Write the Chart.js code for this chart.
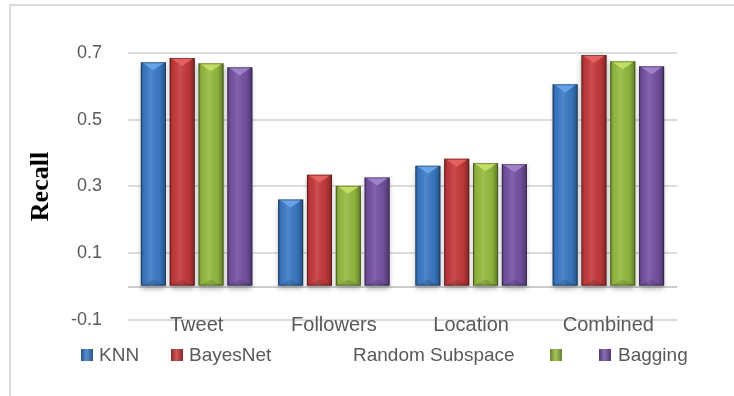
<!DOCTYPE html>
<html>
<head>
<meta charset="utf-8">
<script src="https://cdn.jsdelivr.net/npm/chart.js@4.4.1/dist/chart.umd.min.js"></script>
<style>
  html, body { margin: 0; padding: 0; background: #fff; }
  #wrap { position: relative; width: 734px; height: 396px; overflow: hidden; }
  #frame { position: absolute; left: 9px; top: 4px; width: 800px; height: 500px;
           border-top: 2px solid #d9d9d9; border-left: 2px solid #d9d9d9; }
  #legend { position: absolute; left: 0; top: 0; width: 734px; height: 396px; pointer-events: none;
            font-family: "Liberation Sans", Arial, sans-serif; font-size: 19px; color: #595959; }
  .lg-box { position: absolute; top: 349px; width: 12px; height: 12px; }
  .lg-txt { position: absolute; top: 344px; white-space: nowrap; line-height: 22px; }
</style>
</head>
<body>
<div id="wrap">
  <div id="frame"></div>
  <canvas id="recallChart" width="734" height="396"></canvas>
  <div id="legend"></div>
</div>
<script>
const categories = ['Tweet', 'Followers', 'Location', 'Combined']
const seriesNames = ['KNN', 'BayesNet', 'Random Subspace', 'Bagging']
const knnValues = [0.672, 0.261, 0.362, 0.606]
const bayesNetValues = [0.685, 0.335, 0.383, 0.694]
const randomSubspaceValues = [0.669, 0.302, 0.370, 0.675]
const baggingValues = [0.657, 0.327, 0.367, 0.660]
const yTicks = [-0.1, 0.1, 0.3, 0.5, 0.7]

const baseColors = ['#3b7ac6', '#c63a3c', '#95bb40', '#7553a3']
const lightColors = ['#6aa6ec', '#e86464', '#c6e266', '#a286cc']

// bevel / shading on top of every bar, using the element geometry chart.js computed
const bevelPlugin = {
  id: 'bevel',
  beforeDatasetsDraw(chart) {
    const ctx = chart.ctx
    chart.data.datasets.forEach((ds, i) => {
      chart.getDatasetMeta(i).data.forEach(bar => {
        const left = bar.x - bar.width / 2
        ctx.save()
        ctx.shadowColor = 'rgba(0,0,0,0.28)'
        ctx.shadowBlur = 5
        ctx.shadowOffsetY = 3
        ctx.fillStyle = '#ffffff'
        ctx.fillRect(left, bar.y, bar.width, bar.base - bar.y)
        ctx.restore()
      })
    })
  },
  afterDatasetsDraw(chart) {
    const ctx = chart.ctx
    chart.data.datasets.forEach((ds, i) => {
      chart.getDatasetMeta(i).data.forEach(bar => {
        const left = bar.x - bar.width / 2
        const right = left + bar.width
        const h = bar.base - bar.y
        ctx.save()
        const g = ctx.createLinearGradient(left, 0, right, 0)
        g.addColorStop(0, 'rgba(0,0,0,0.30)')
        g.addColorStop(0.12, 'rgba(0,0,0,0.05)')
        g.addColorStop(0.4, 'rgba(255,255,255,0.10)')
        g.addColorStop(0.75, 'rgba(0,0,0,0.05)')
        g.addColorStop(1, 'rgba(0,0,0,0.35)')
        ctx.fillStyle = g
        ctx.fillRect(left, bar.y, bar.width, h)
        // top bevel triangle
        ctx.beginPath()
        ctx.moveTo(left + 1, bar.y)
        ctx.lineTo(right - 1, bar.y)
        ctx.lineTo(bar.x, bar.y + bar.width * 0.32)
        ctx.closePath()
        ctx.fillStyle = lightColors[i]
        ctx.globalAlpha = 0.9
        ctx.fill()
        // bottom bevel
        ctx.beginPath()
        ctx.moveTo(left + 1, bar.base)
        ctx.lineTo(right - 1, bar.base)
        ctx.lineTo(bar.x, bar.base - bar.width * 0.25)
        ctx.closePath()
        ctx.fillStyle = 'rgba(0,0,0,0.12)'
        ctx.globalAlpha = 1
        ctx.fill()
        ctx.strokeStyle = 'rgba(0,0,0,0.35)'
        ctx.lineWidth = 1
        ctx.strokeRect(left + 0.5, bar.y + 0.5, bar.width - 1, h - 1)
        ctx.restore()
      })
    })
  }
}

// category labels sit across the -0.1 gridline, so they are drawn here instead of by the axis
const categoryLabelPlugin = {
  id: 'categoryLabels',
  afterDraw(chart) {
    const ctx = chart.ctx
    const xScale = chart.scales.x
    ctx.save()
    ctx.font = '20px "Liberation Sans", Arial, sans-serif'
    ctx.fillStyle = '#595959'
    ctx.textAlign = 'center'
    ctx.textBaseline = 'middle'
    categories.forEach((cat, i) => {
      ctx.fillText(cat, xScale.getPixelForValue(i), chart.chartArea.bottom + 5)
    })
    ctx.restore()
  }
}

const ctx1 = document.getElementById('recallChart')
new Chart(ctx1, {
  type: 'bar',
  data: {
    labels: categories,
    datasets: [knnValues, bayesNetValues, randomSubspaceValues, baggingValues].map((vals, i) => ({
      label: seriesNames[i],
      data: vals,
      backgroundColor: baseColors[i],
      borderWidth: 0,
      categoryPercentage: 0.84,
      barPercentage: 0.87
    }))
  },
  options: {
    responsive: false,
    animation: false,
    layout: { padding: { left: 0, right: 57, top: 53, bottom: 76 } },
    plugins: { legend: { display: false }, tooltip: { enabled: false } },
    scales: {
      x: {
        display: false
      },
      y: {
        min: yTicks[0],
        max: yTicks[yTicks.length - 1],
        afterBuildTicks: axis => {
          axis.ticks = yTicks.concat([0]).sort((a, b) => a - b).map(v => ({ value: v }))
        },
        afterFit: axis => { axis.width = 128 },
        border: { display: false },
        grid: {
          drawTicks: false,
          lineWidth: 2,
          color: c => c.tick && c.tick.value === 0 ? '#cccccc' : '#dcdcdc'
        },
        ticks: {
          padding: 26,
          color: '#595959',
          font: { family: '"Liberation Sans", Arial, sans-serif', size: 18 },
          callback: v => Math.abs(v) < 1e-9 ? '' : v.toFixed(1)
        },
        title: {
          display: true,
          text: 'Recall',
          color: '#000',
          padding: { top: 26, bottom: 0 },
          font: { family: '"Liberation Serif", "Times New Roman", serif', size: 26, weight: 'bold' }
        }
      }
    }
  },
  plugins: [bevelPlugin, categoryLabelPlugin]
})

// legend: the original keeps the green box after the "Random Subspace" label
const legendItems = [
  { box: 0, boxX: 81, text: 'KNN', textX: 99 },
  { box: 1, boxX: 171, text: 'BayesNet', textX: 189 },
  { box: null, text: 'Random Subspace', textX: 353 },
  { box: 2, boxX: 550 },
  { box: 3, boxX: 599, text: 'Bagging', textX: 618 }
]
const legendEl = document.getElementById('legend')
legendItems.forEach(item => {
  if (item.box !== null) {
    const b = document.createElement('div')
    b.className = 'lg-box'
    b.style.left = item.boxX + 'px'
    b.style.background = 'linear-gradient(90deg, rgba(0,0,0,0.3), rgba(255,255,255,0.15) 45%, rgba(0,0,0,0.3)), ' + baseColors[item.box]
    legendEl.appendChild(b)
  }
  if (item.text) {
    const t = document.createElement('div')
    t.className = 'lg-txt'
    t.style.left = item.textX + 'px'
    t.textContent = item.text
    legendEl.appendChild(t)
  }
})
</script>
</body>
</html>
